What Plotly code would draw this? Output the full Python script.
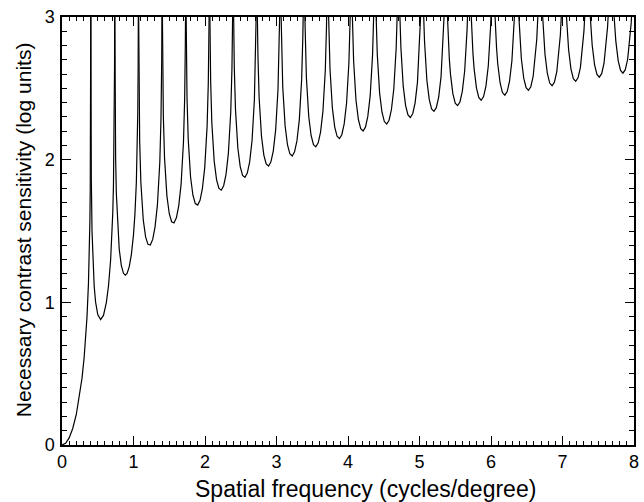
import plotly.graph_objects as go

# ---- data (x: cycles/degree, y: log units) ----
rise_x = [0.0, 0.05, 0.10, 0.15, 0.20, 0.25, 0.28, 0.31, 0.33, 0.35, 0.37, 0.38, 0.39, 0.395, 0.40, 0.4024]
rise_y = [0.0, 0.0123, 0.0501, 0.1156, 0.2139, 0.3550, 0.4687, 0.6147, 0.7397, 0.9014, 1.1329, 1.3039, 1.5680, 1.7872, 2.2300, 3.0]

lobe01_x = [0.4034, 0.405, 0.41, 0.42, 0.43, 0.45, 0.47, 0.50, 0.54, 0.58, 0.62, 0.65, 0.68, 0.70, 0.71, 0.72, 0.73, 0.735, 0.7365]
lobe01_y = [3.0, 2.3815, 1.8602, 1.4956, 1.3134, 1.1122, 1.0013, 0.9136, 0.8785, 0.9081, 0.9985, 1.1148, 1.2970, 1.4880, 1.6269, 1.8277, 2.1961, 2.6552, 3.0]

lobe02_x = [0.7389, 0.745, 0.75, 0.76, 0.78, 0.80, 0.83, 0.86, 0.885, 0.91, 0.94, 0.97, 1.00, 1.02, 1.04, 1.05, 1.06, 1.065, 1.0676]
lobe02_y = [3.0, 2.2331, 2.0108, 1.7639, 1.5116, 1.3734, 1.2578, 1.2034, 1.1906, 1.2024, 1.2487, 1.3345, 1.4747, 1.6183, 1.8417, 2.0228, 2.3351, 2.6505, 3.0]

lobe03_x = [1.0720, 1.0764, 1.0863, 1.1029, 1.1360, 1.1691, 1.2023, 1.2354, 1.2685, 1.3016, 1.3348, 1.3679, 1.3845, 1.3944, 1.3978]
lobe03_y = [3.0, 2.5205, 2.1293, 1.8423, 1.5805, 1.4592, 1.4064, 1.4020, 1.4412, 1.5288, 1.6851, 1.9817, 2.2861, 2.6877, 3.0]

lobe04_x = [1.4043, 1.4076, 1.4176, 1.4341, 1.4672, 1.5003, 1.5334, 1.5665, 1.5996, 1.6327, 1.6657, 1.6988, 1.7154, 1.7253, 1.7275]
lobe04_y = [3.0, 2.6929, 2.3006, 2.0117, 1.7463, 1.6212, 1.5648, 1.5567, 1.5922, 1.6762, 1.8287, 2.1217, 2.4242, 2.8248, 3.0]

lobe05_x = [1.7364, 1.7385, 1.7485, 1.7650, 1.7981, 1.8312, 1.8642, 1.8973, 1.9304, 1.9634, 1.9965, 2.0296, 2.0461, 2.0561, 2.0569]
lobe05_y = [3.0, 2.8292, 2.4362, 2.1461, 1.8783, 1.7508, 1.6920, 1.6815, 1.7146, 1.7962, 1.9463, 2.2369, 2.5382, 2.9380, 3.0]

lobe06_x = [2.0684, 2.0693, 2.0792, 2.0957, 2.1288, 2.1619, 2.1949, 2.2280, 2.2610, 2.2941, 2.3272, 2.3602, 2.3768, 2.3861]
lobe06_y = [3.0, 2.9418, 2.5483, 2.2575, 1.9879, 1.8588, 1.7982, 1.7861, 1.8176, 1.8974, 2.0459, 2.3347, 2.6353, 3.0]

lobe07_x = [2.4005, 2.4032, 2.4098, 2.4263, 2.4594, 2.4925, 2.5255, 2.5586, 2.5916, 2.6247, 2.6577, 2.6908, 2.7073, 2.7139, 2.7151]
lobe07_y = [3.0, 2.8632, 2.6442, 2.3527, 2.0819, 1.9515, 1.8897, 1.8763, 1.9065, 1.9851, 2.1323, 2.4199, 2.7199, 2.9422, 3.0]

lobe08_x = [2.7326, 2.7338, 2.7404, 2.7569, 2.7899, 2.8230, 2.8560, 2.8891, 2.9221, 2.9552, 2.9882, 3.0213, 3.0378, 3.0440]
lobe08_y = [3.0, 2.9468, 2.7276, 2.4356, 2.1639, 2.0325, 1.9698, 1.9554, 1.9847, 2.0623, 2.2086, 2.4952, 2.7946, 3.0]

lobe09_x = [3.0647, 3.0709, 3.0874, 3.1204, 3.1535, 3.1865, 3.2196, 3.2526, 3.2857, 3.3187, 3.3518, 3.3683, 3.3728]
lobe09_y = [3.0, 2.8016, 2.5093, 2.2368, 2.1046, 2.0411, 2.0260, 2.0545, 2.1314, 2.2768, 2.5627, 2.8618, 3.0]

lobe10_x = [3.3969, 3.4014, 3.4179, 3.4509, 3.4840, 3.5170, 3.5501, 3.5831, 3.6162, 3.6492, 3.6823, 3.6988, 3.7014]
lobe10_y = [3.0, 2.8680, 2.5754, 2.3022, 2.1695, 2.1053, 2.0896, 2.1175, 2.1937, 2.3386, 2.6238, 2.9226, 3.0]

lobe11_x = [3.7292, 3.7318, 3.7483, 3.7814, 3.8144, 3.8475, 3.8805, 3.9136, 3.9466, 3.9797, 4.0127, 4.0293, 4.0300]
lobe11_y = [3.0, 2.9283, 2.6354, 2.3618, 2.2285, 2.1639, 2.1476, 2.1750, 2.2507, 2.3951, 2.6798, 2.9783, 3.0]

lobe12_x = [4.0615, 4.0788, 4.1118, 4.1449, 4.1779, 4.2110, 4.2440, 4.2771, 4.3101, 4.3432, 4.3584]
lobe12_y = [3.0, 2.6904, 2.4163, 2.2826, 2.2175, 2.2008, 2.2277, 2.3030, 2.4469, 2.7312, 3.0]

lobe13_x = [4.3939, 4.4092, 4.4422, 4.4753, 4.5083, 4.5414, 4.5744, 4.6075, 4.6405, 4.6736, 4.6868]
lobe13_y = [3.0, 2.7411, 2.4667, 2.3326, 2.2672, 2.2501, 2.2766, 2.3516, 2.4951, 2.7791, 3.0]

lobe14_x = [4.7264, 4.7396, 4.7727, 4.8057, 4.8388, 4.8718, 4.9049, 4.9379, 4.9710, 5.0040, 5.0150]
lobe14_y = [3.0, 2.7881, 2.5133, 2.3790, 2.3132, 2.2958, 2.3220, 2.3966, 2.5399, 2.8235, 3.0]

lobe15_x = [5.0590, 5.0700, 5.1031, 5.1361, 5.1692, 5.2022, 5.2353, 5.2683, 5.3014, 5.3344, 5.3432]
lobe15_y = [3.0, 2.8320, 2.5570, 2.4223, 2.3563, 2.3386, 2.3645, 2.4389, 2.5818, 2.8652, 3.0]

lobe16_x = [5.3916, 5.4004, 5.4169, 5.4335, 5.4665, 5.4996, 5.5326, 5.5657, 5.5987, 5.6318, 5.6483, 5.6648, 5.6713]
lobe16_y = [3.0, 2.8731, 2.7081, 2.5978, 2.4629, 2.3966, 2.3787, 2.4044, 2.4785, 2.6212, 2.7353, 2.9043, 3.0]

lobe17_x = [5.7243, 5.7308, 5.7473, 5.7639, 5.7969, 5.8300, 5.8630, 5.8961, 5.9291, 5.9622, 5.9787, 5.9952, 5.9993]
lobe17_y = [3.0, 2.9117, 2.7466, 2.6362, 2.5011, 2.4345, 2.4164, 2.4419, 2.5157, 2.6582, 2.7722, 2.9411, 3.0]

lobe18_x = [6.0571, 6.0612, 6.0777, 6.0942, 6.1273, 6.1603, 6.1934, 6.2264, 6.2595, 6.2925, 6.3091, 6.3256, 6.3272]
lobe18_y = [3.0, 2.9483, 2.7831, 2.6726, 2.5373, 2.4705, 2.4522, 2.4775, 2.5511, 2.6934, 2.8074, 2.9761, 3.0]

lobe19_x = [6.3900, 6.3916, 6.4081, 6.4246, 6.4577, 6.4907, 6.5238, 6.5568, 6.5899, 6.6229, 6.6395, 6.6550]
lobe19_y = [3.0, 2.9828, 2.8175, 2.7069, 2.5714, 2.5045, 2.4860, 2.5111, 2.5846, 2.7267, 2.8406, 3.0]

lobe20_x = [6.7230, 6.7385, 6.7550, 6.7881, 6.8211, 6.8542, 6.8872, 6.9203, 6.9533, 6.9698, 6.9827]
lobe20_y = [3.0, 2.8502, 2.7396, 2.6039, 2.5369, 2.5182, 2.5431, 2.6165, 2.7584, 2.8722, 3.0]

lobe21_x = [7.0560, 7.0688, 7.0854, 7.1184, 7.1515, 7.1845, 7.2176, 7.2506, 7.2837, 7.3002, 7.3103]
lobe21_y = [3.0, 2.8814, 2.7707, 2.6349, 2.5677, 2.5489, 2.5737, 2.6469, 2.7887, 2.9024, 3.0]

lobe22_x = [7.3891, 7.3992, 7.4157, 7.4488, 7.4818, 7.5149, 7.5479, 7.5810, 7.6140, 7.6306, 7.6378]
lobe22_y = [3.0, 2.9112, 2.8004, 2.6645, 2.5971, 2.5782, 2.6029, 2.6759, 2.8176, 2.9312, 3.0]

lobe23_x = [7.7223, 7.7296, 7.7461, 7.7791, 7.8122, 7.8452, 7.8782, 7.9113, 7.9443, 7.9608, 7.9653]
lobe23_y = [3.0, 2.9396, 2.8288, 2.6927, 2.6253, 2.6062, 2.6307, 2.7037, 2.8452, 2.9588, 3.0]

x_ticks = [0, 1, 2, 3, 4, 5, 6, 7, 8]
y_ticks = [0, 1, 2, 3]
x_title = "Spatial frequency (cycles/degree)"
y_title = "Necessary contrast sensitivity (log units)"

segments = [
    (rise_x, rise_y), (lobe01_x, lobe01_y), (lobe02_x, lobe02_y), (lobe03_x, lobe03_y),
    (lobe04_x, lobe04_y), (lobe05_x, lobe05_y), (lobe06_x, lobe06_y), (lobe07_x, lobe07_y),
    (lobe08_x, lobe08_y), (lobe09_x, lobe09_y), (lobe10_x, lobe10_y), (lobe11_x, lobe11_y),
    (lobe12_x, lobe12_y), (lobe13_x, lobe13_y), (lobe14_x, lobe14_y), (lobe15_x, lobe15_y),
    (lobe16_x, lobe16_y), (lobe17_x, lobe17_y), (lobe18_x, lobe18_y), (lobe19_x, lobe19_y),
    (lobe20_x, lobe20_y), (lobe21_x, lobe21_y), (lobe22_x, lobe22_y), (lobe23_x, lobe23_y),
]

xs, ys = [], []
for sx, sy in segments:
    xs.extend(sx)
    ys.extend(sy)
    xs.append(None)
    ys.append(None)

FONT = "Liberation Sans, Arial, Helvetica, sans-serif"

fig = go.Figure()
fig.add_trace(go.Scatter(
    x=xs, y=ys, mode="lines", connectgaps=False, hoverinfo="skip",
    line=dict(color="black", width=1.2), showlegend=False,
))

axis_common = dict(
    showline=True, linecolor="black", linewidth=1.5, mirror="ticks",
    ticks="inside", ticklen=9, tickwidth=1.3, tickcolor="black",
    showgrid=False, zeroline=False, automargin=False,
    tickfont=dict(family=FONT, size=18, color="black"),
)

fig.update_xaxes(
    range=[0, 8], tickvals=x_ticks, ticktext=[str(v) for v in x_ticks],
    minor=dict(ticks="inside", ticklen=4, tickwidth=1, tickcolor="black", dtick=0.1, tick0=0),
    **axis_common,
)
fig.update_yaxes(
    range=[0, 3], tickvals=y_ticks, ticktext=[str(v) for v in y_ticks],
    minor=dict(ticks="inside", ticklen=5, tickwidth=1, tickcolor="black", dtick=0.1, tick0=0),
    ticklabelstandoff=2,
    **axis_common,
)

fig.add_annotation(
    text=x_title, xref="paper", yref="paper", x=0.530, y=-0.103,
    xanchor="center", yanchor="middle", showarrow=False,
    font=dict(family=FONT, size=23, color="black"),
)
fig.add_annotation(
    text=y_title, xref="paper", yref="paper", x=-0.068, y=0.502,
    xanchor="center", yanchor="middle", showarrow=False, textangle=-90,
    font=dict(family=FONT, size=21, color="black"),
)

fig.update_layout(
    width=644, height=502, autosize=False,
    margin=dict(l=62, r=10, t=17, b=57, autoexpand=False),
    paper_bgcolor="white", plot_bgcolor="white",
    font=dict(family=FONT, color="black"),
)

# remove the browser's default 8px body margin so the figure sits at the page origin
fig.write_html(
    "out.html",
    config={"displayModeBar": False},
    post_script="document.body.style.margin='0';document.body.style.overflow='hidden';",
)
